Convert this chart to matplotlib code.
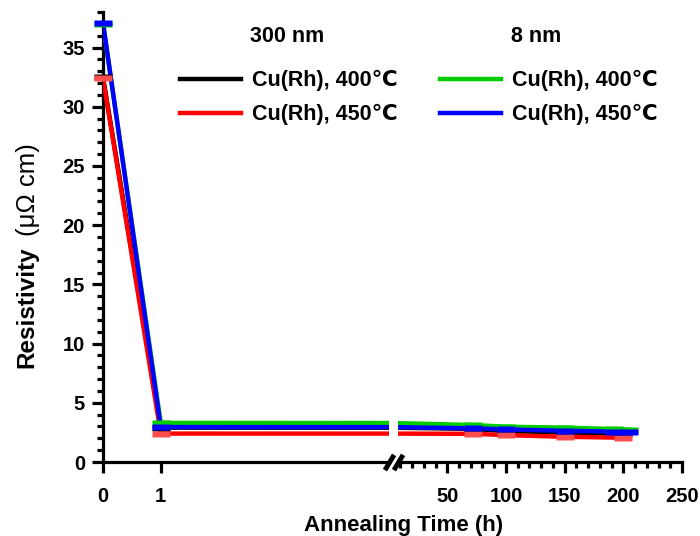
import matplotlib
matplotlib.use("Agg")
import matplotlib.pyplot as plt
from matplotlib.path import Path
from matplotlib.ticker import MultipleLocator, FixedLocator

plt.rcParams['font.family'] = ['Liberation Sans', 'DejaVu Sans']

# ---- data ----
t_300 = [0, 1, 72, 100, 150, 200]
black_400 = [32.5, 2.9, 2.8, 2.6, 2.5, 2.4]
red_450 = [32.4, 2.4, 2.38, 2.27, 2.13, 2.05]
t_8 = [0, 1, 72, 100, 150, 192, 205]
green_400 = [37.0, 3.3, 3.12, 2.98, 2.9, 2.78, 2.72]
blue_450 = [37.1, 2.95, 2.84, 2.75, 2.64, 2.56, 2.55]

series = [
    (t_300, black_400, '#000000', '#000000', 'Cu(Rh), 400℃'),
    (t_300, red_450, '#ff0000', '#ff4c4c', 'Cu(Rh), 450℃'),
    (t_8, green_400, '#00cc00', '#00cc00', 'Cu(Rh), 400℃'),
    (t_8, blue_450, '#0000ff', '#0000ff', 'Cu(Rh), 450℃'),
]

left_xlim = (0, 4.95)
right_xlim = (8, 250)
ylim = (0, 38)

W, H = 700, 536
fig = plt.figure(figsize=(W / 100, H / 100), dpi=100)
axL = fig.add_axes([103 / W, 74 / H, 286 / W, 450 / H])
axR = fig.add_axes([398 / W, 74 / H, 284 / W, 450 / H])

rect = Path([(-1.5, -0.5), (1.5, -0.5), (1.5, 0.5), (-1.5, 0.5), (-1.5, -0.5)],
            [Path.MOVETO, Path.LINETO, Path.LINETO, Path.LINETO, Path.CLOSEPOLY])

handles = []
for ax, xl in ((axL, left_xlim), (axR, right_xlim)):
    for t, v, lc, mc, lab in series:
        ln, = ax.plot(t, v, color=lc, lw=3.2, solid_joinstyle='miter', zorder=3)
        tt = [a for a in t if xl[0] <= a <= xl[1]]
        vv = [b for a, b in zip(t, v) if xl[0] <= a <= xl[1]]
        ax.plot(tt, vv, ls='none', marker=rect, ms=13, mfc=mc, mec='none',
                clip_on=False, zorder=4)
        if ax is axL:
            handles.append((ln, lab))
    ax.set_xlim(*xl)
    ax.set_ylim(*ylim)
    for s in ('top', 'right'):
        ax.spines[s].set_visible(False)
    ax.spines['bottom'].set_linewidth(2.3)
    ax.spines['left'].set_linewidth(2.3)
    ax.tick_params(which='major', length=8, width=2.3, labelsize=14.5)
    ax.tick_params(axis='x', which='major', pad=10)
    ax.tick_params(axis='y', which='major', pad=5)
    ax.tick_params(which='minor', length=4, width=2.3)

axL.xaxis.set_major_locator(FixedLocator([0, 1]))
axL.yaxis.set_major_locator(MultipleLocator(5))
axL.yaxis.set_minor_locator(MultipleLocator(1))
axR.spines['left'].set_visible(False)
axR.tick_params(axis='y', which='both', left=False, labelleft=False)
axR.xaxis.set_major_locator(FixedLocator([50, 100, 150, 200, 250]))
axR.xaxis.set_minor_locator(FixedLocator(list(range(10, 250, 10))))
for ax in (axL, axR):
    for lbl in ax.get_xticklabels() + ax.get_yticklabels():
        lbl.set_fontweight('bold')

# break marks
d = 0.6
brk = [(-d, -1), (d, 1)]
axL.plot([1], [0], transform=axL.transAxes, marker=brk, ms=11, mew=3.5,
         color='k', clip_on=False, zorder=5)
axR.plot([0], [0], transform=axR.transAxes, marker=brk, ms=11, mew=3.5,
         color='k', clip_on=False, zorder=5)

# axis labels
fig.text(404 / W, 1 - 525 / H, 'Annealing Time (h)', ha='center', va='center',
         fontsize=16, fontweight='bold')
fig.text(27 / W, 1 - 307 / H, 'Resistivity', rotation=90, ha='center',
         va='center', fontsize=17.5, fontweight='bold')
fig.text(28 / W, 1 - 190 / H, '(μΩ cm)', rotation=90, ha='center',
         va='center', fontsize=18.5)

# legend
leg = fig.legend([h for h, _ in handles], [l for _, l in handles], ncol=2,
                 loc='upper left', bbox_to_anchor=(180 / W, 1 - 70 / H),
                 frameon=False, borderpad=0, borderaxespad=0,
                 handlelength=2.85, handletextpad=0.5, labelspacing=0.6,
                 columnspacing=1.95, prop={'size': 15.5, 'weight': 'bold'})
fig.text(250 / W, 1 - 37 / H, '300 nm', ha='left', va='center', fontsize=15.5,
         fontweight='bold')
fig.text(511 / W, 1 - 37 / H, '8 nm', ha='left', va='center', fontsize=15.5,
         fontweight='bold')

fig.savefig('out.png', dpi=100)
